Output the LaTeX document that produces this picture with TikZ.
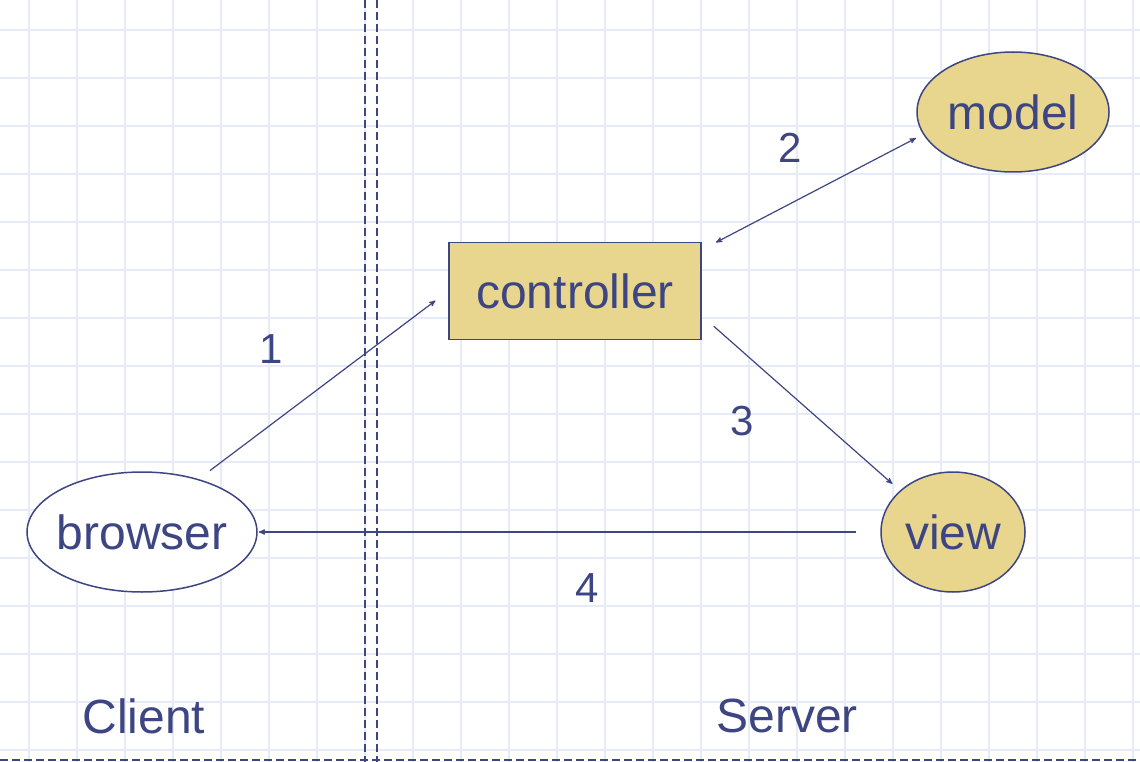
\documentclass[tikz,border=0pt]{standalone}
\usepackage{fontspec}
\setmainfont{Liberation Sans}
\usepackage{tikz}
\usetikzlibrary{arrows,shapes.geometric,positioning}
\definecolor{ink}{RGB}{61,69,130}
\definecolor{khaki}{RGB}{232,214,142}
\definecolor{gridblue}{RGB}{230,235,250}
\tikzset{
    %Define standard arrow tip
    >=stealth',
    %Define style for the server parts
    part/.style={
           ellipse,
           draw=ink, line width=1.5pt,
           fill=khaki,
           inner sep=0pt,
           minimum width=192pt,
           minimum height=120pt,
           font=\fontsize{48}{50}\selectfont,
           text=ink},
    partrect/.style={
           rectangle,
           draw=ink, line width=1.5pt,
           fill=khaki,
           inner sep=0pt,
           minimum width=252pt,
           minimum height=97pt,
           font=\fontsize{48}{50}\selectfont,
           text=ink},
    client/.style={
           ellipse,
           draw=ink, line width=1.5pt,
           fill=white,
           inner sep=0pt,
           inner xsep=-5pt,
           minimum width=230pt,
           minimum height=120pt,
           font=\fontsize{48}{50}\selectfont,
           text=ink},
    numlabel/.style={
           inner sep=0pt,
           font=\fontsize{42}{44}\selectfont,
           text=ink},
    side/.style={
           inner sep=0pt,
           font=\fontsize{48}{50}\selectfont,
           text=ink},
    % Define line styles
    gridline/.style={
           draw=gridblue,
           line width=1.3pt},
    border/.style={
           draw=ink,
           line width=1.8pt,
           dash pattern=on 8pt off 4pt},
    % Define arrow style
    pil/.style={
           ->,
           draw=ink,
           line width=1.2pt},
    pilboth/.style={
           <->,
           draw=ink,
           line width=1.2pt}
}
\begin{document}
\begin{tikzpicture}[x=1pt,y=-1pt,auto]
 %background
\useasboundingbox (0,0) rectangle (1140,762);
\foreach \gx in {0,...,23}
    \draw[gridline] (29+48*\gx,0) -- (29+48*\gx,762);
\foreach \gy in {0,...,15}
    \draw[gridline] (0,30+48*\gy) -- (1140,30+48*\gy);
\draw[border] (365,0) -- (365,762);
\draw[border] (377,0) -- (377,762);
\draw[border] (0,760) -- (1140,760);

 %nodes
\node[partrect](controller) at (575,291){controller};
\node[part](model) at (1013,112){model};
\node[part, minimum width=144pt](view) at (953,532){view};
\node[client](browser) at (142,532){browser};

\node[numlabel](one) at (271,349){1};
\node[numlabel](two) at (790,148){2};
\node[numlabel](three) at (742,421){3};
\node[numlabel](four) at (587,588){4};

\node[side](clientlabel) at (144,716){Client};
\node[side](serverlabel) at (787,716){Server};

 \path
    (browser.43) edge [pil, shorten <=14pt, shorten >=16pt] (controller.west)
    (controller.18) edge [pilboth, shorten <=16pt, shorten >=8pt] (model.194)
    (controller.349) edge [pil, shorten <=16pt, shorten >=10pt] (view.142)
    (view.west) edge [pil, shorten <=24pt, shorten >=1pt] (browser.east);
\end{tikzpicture}
\end{document}
